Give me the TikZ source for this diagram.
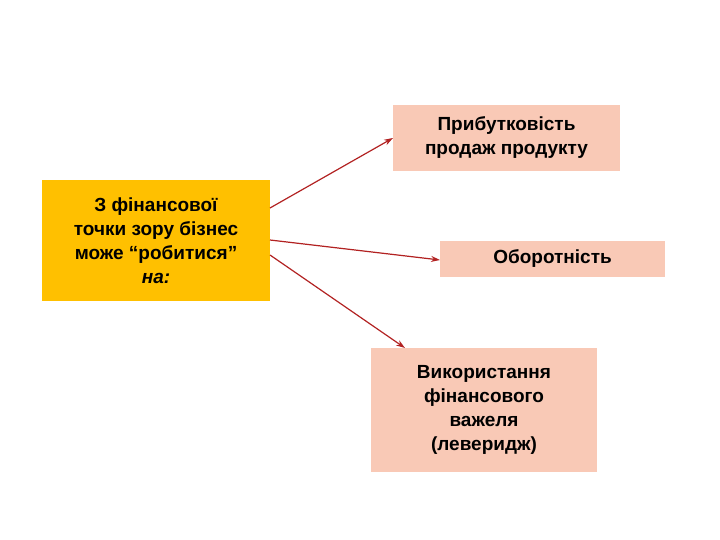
\documentclass[tikz,border=0pt]{standalone}
\usepackage{fontspec}
\setmainfont{Liberation Sans}
\usetikzlibrary{arrows.meta}
\definecolor{gold}{HTML}{FFC000}
\definecolor{pinkbox}{HTML}{F9C9B6}
\definecolor{arr}{HTML}{B22222}
\begin{document}
\begin{tikzpicture}[x=1pt,y=-1pt,
  box/.style={inner sep=0pt,align=center,font=\fontsize{19}{24}\selectfont\bfseries},
  conn/.style={arr,line width=1.2pt,-{Stealth[length=9pt,width=6pt]}}]
\useasboundingbox (0,0) rectangle (720,540);
\node[box,fill=gold,minimum width=228pt,minimum height=121pt] (a) at (156,240.5)
  {З фінансової\\точки зору бізнес\\може “робитися”\\\textit{на:}};
\node[box,fill=pinkbox,minimum width=227pt,minimum height=66pt] (b) at (506.5,138)
  {Прибутковість\\продаж продукту};
\node[box,fill=pinkbox,minimum width=225pt,minimum height=36pt] (c) at (552.5,259)
  {Оборотність};
\node[box,fill=pinkbox,minimum width=226pt,minimum height=124pt] (d) at (484,410)
  {Використання\\фінансового\\важеля\\(левеpидж)};
\coordinate (a1) at (270,208);
\coordinate (a2) at (270,240);
\coordinate (a3) at (270,255);
\coordinate (b1) at (393,138);
\coordinate (c1) at (440,260);
\coordinate (d1) at (405,348);
\draw[conn] (a1) -- (b1);
\draw[conn] (a2) -- (c1);
\draw[conn] (a3) -- (d1);
\end{tikzpicture}
\end{document}
